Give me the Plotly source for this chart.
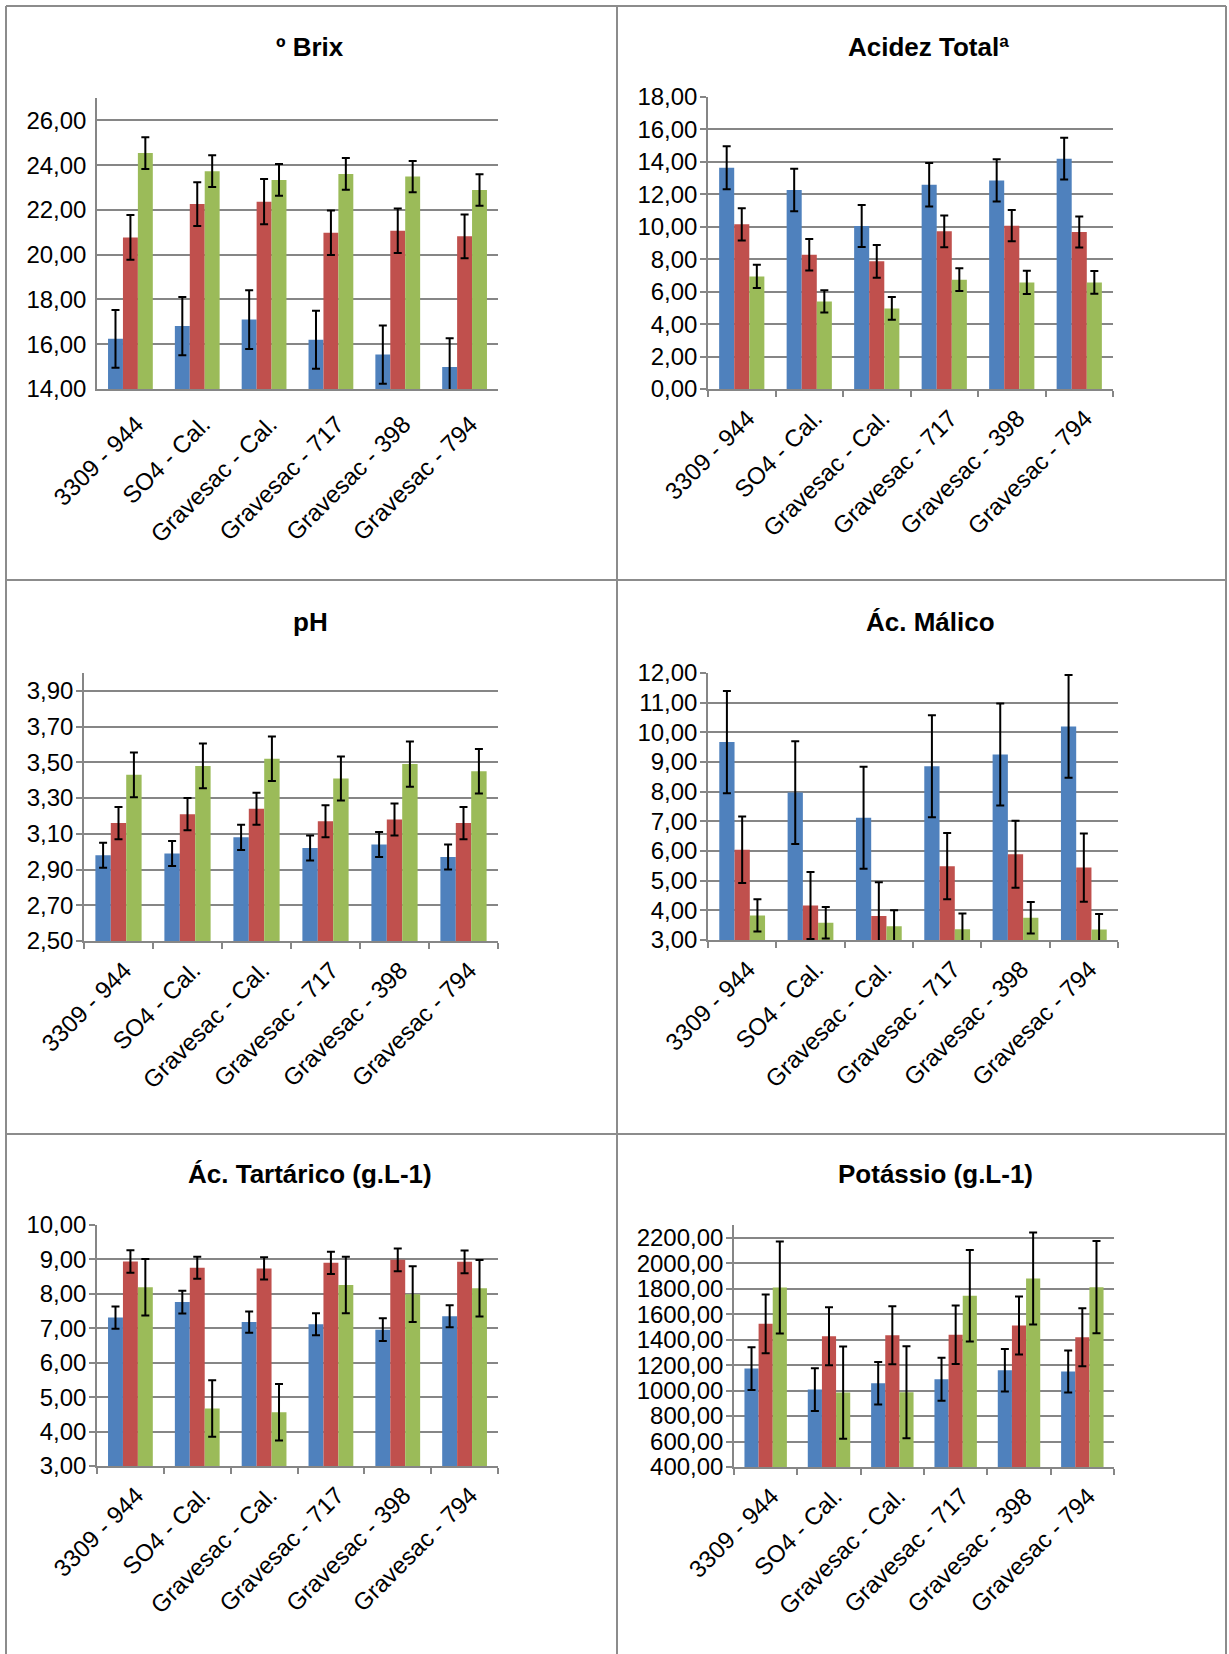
import plotly.graph_objects as go

# ---------------- data ----------------
categories = ["3309 - 944", "SO4 - Cal.", "Gravesac - Cal.", "Gravesac - 717", "Gravesac - 398", "Gravesac - 794"]

titles = ["º Brix", "Acidez Totalª", "pH", "Ác. Málico", "Ác. Tartárico (g.L-1)", "Potássio (g.L-1)"]

brix_s1 = [16.24, 16.81, 17.10, 16.20, 15.54, 14.98]
brix_s2 = [20.77, 22.26, 22.37, 20.98, 21.07, 20.82]
brix_s3 = [24.54, 23.73, 23.34, 23.61, 23.49, 22.89]
brix_e1 = [1.29, 1.30, 1.31, 1.30, 1.30, 1.29]
brix_e2 = [1.00, 0.98, 1.01, 0.99, 0.99, 0.98]
brix_e3 = [0.71, 0.71, 0.71, 0.71, 0.70, 0.70]

acid_s1 = [13.64, 12.27, 10.05, 12.59, 12.86, 14.20]
acid_s2 = [10.15, 8.28, 7.87, 9.72, 10.07, 9.68]
acid_s3 = [6.94, 5.40, 4.97, 6.74, 6.57, 6.57]
acid_e1 = [1.32, 1.31, 1.29, 1.34, 1.30, 1.29]
acid_e2 = [0.99, 0.97, 1.01, 0.98, 0.96, 0.96]
acid_e3 = [0.72, 0.68, 0.70, 0.70, 0.72, 0.70]

ph_s1 = [2.98, 2.99, 3.08, 3.02, 3.04, 2.97]
ph_s2 = [3.16, 3.21, 3.24, 3.17, 3.18, 3.16]
ph_s3 = [3.43, 3.48, 3.52, 3.41, 3.49, 3.45]
ph_e1 = [0.07, 0.07, 0.07, 0.07, 0.07, 0.07]
ph_e2 = [0.09, 0.09, 0.09, 0.09, 0.09, 0.09]
ph_e3 = [0.125, 0.125, 0.125, 0.123, 0.127, 0.125]

malic_s1 = [9.67, 7.97, 7.12, 8.86, 9.25, 10.20]
malic_s2 = [6.04, 4.16, 3.81, 5.49, 5.89, 5.44]
malic_s3 = [3.83, 3.58, 3.46, 3.36, 3.75, 3.35]
malic_e1 = [1.72, 1.73, 1.72, 1.72, 1.72, 1.73]
malic_e2 = [1.12, 1.13, 1.14, 1.12, 1.13, 1.15]
malic_e3 = [0.54, 0.53, 0.54, 0.53, 0.53, 0.53]

tart_s1 = [7.31, 7.76, 7.18, 7.12, 6.96, 7.35]
tart_s2 = [8.94, 8.76, 8.74, 8.90, 8.99, 8.93]
tart_s3 = [8.19, 4.67, 4.56, 8.26, 7.99, 8.16]
tart_e1 = [0.32, 0.33, 0.31, 0.32, 0.33, 0.32]
tart_e2 = [0.33, 0.32, 0.32, 0.32, 0.33, 0.33]
tart_e3 = [0.82, 0.82, 0.82, 0.82, 0.81, 0.82]

pot_s1 = [1173, 1008, 1058, 1089, 1160, 1149]
pot_s2 = [1524, 1427, 1435, 1438, 1511, 1419]
pot_s3 = [1810, 984, 987, 1744, 1880, 1812]
pot_e1 = [168, 168, 167, 168, 167, 165]
pot_e2 = [231, 228, 228, 230, 228, 228]
pot_e3 = [361, 362, 361, 359, 362, 362]

y_ranges = [[14, 27], [0, 18], [2.5, 4.0], [3, 12], [3, 10], [400, 2300]]
y_dticks = [2, 2, 0.2, 1, 1, 200]

panel_series = [
    [(brix_s1, brix_e1), (brix_s2, brix_e2), (brix_s3, brix_e3)],
    [(acid_s1, acid_e1), (acid_s2, acid_e2), (acid_s3, acid_e3)],
    [(ph_s1, ph_e1), (ph_s2, ph_e2), (ph_s3, ph_e3)],
    [(malic_s1, malic_e1), (malic_s2, malic_e2), (malic_s3, malic_e3)],
    [(tart_s1, tart_e1), (tart_s2, tart_e2), (tart_s3, tart_e3)],
    [(pot_s1, pot_e1), (pot_s2, pot_e2), (pot_s3, pot_e3)],
]

# ---------------- layout / style ----------------
W, H = 1229, 1654
colors = ["#4F81BD", "#C0504D", "#9BBB59"]
grid_col = "#868686"
FONT = "Liberation Sans, Arial, sans-serif"

# plot-area boxes in pixels: (left, top, right, bottom)
boxes = [
    (97, 98, 498, 389),
    (708, 97, 1113, 389),
    (84, 673, 498, 941),
    (708, 673, 1118, 940),
    (97, 1225, 498, 1466),
    (734, 1225, 1114, 1467),
]
title_pos = [(310, 47), (928, 47), (310, 622), (930, 622), (310, 1174), (935, 1174)]
show_ticks = [False, True, True, True, True, True]

fig = go.Figure()
layout_axes = {}
for i in range(6):
    xa = "x" if i == 0 else f"x{i+1}"
    ya = "y" if i == 0 else f"y{i+1}"
    for s, (vals, errs) in enumerate(panel_series[i]):
        fig.add_trace(go.Bar(
            x=categories, y=vals,
            error_y=dict(type="data", array=errs, visible=True, color="black",
                         thickness=2, width=4),
            marker=dict(color=colors[s], line=dict(width=0)),
            xaxis=xa, yaxis=ya, showlegend=False,
        ))
    l, t, r, b = boxes[i]
    xkey = "xaxis" if i == 0 else f"xaxis{i+1}"
    ykey = "yaxis" if i == 0 else f"yaxis{i+1}"
    layout_axes[xkey] = dict(
        domain=[l / W, r / W], anchor=ya, type="category", automargin=False,
        tickangle=-45, tickfont=dict(family=FONT, size=24, color="black"),
        showline=True, linecolor=grid_col, linewidth=1.5,
        ticks="outside" if show_ticks[i] else "", tickson="boundaries",
        ticklen=6, tickcolor=grid_col, tickwidth=1.5,
        ticklabelstandoff=4 if show_ticks[i] else 10, ticklabelshift=6,
        showgrid=False, fixedrange=True,
    )
    layout_axes[ykey] = dict(
        domain=[1 - b / H, 1 - t / H], anchor=xa, automargin=False,
        range=y_ranges[i], dtick=y_dticks[i], tick0=y_ranges[i][0],
        tickformat=".2f", tickfont=dict(family=FONT, size=24, color="black"),
        showgrid=True, gridcolor=grid_col, gridwidth=1.5,
        showline=True, linecolor=grid_col, linewidth=1.5,
        ticks="outside" if show_ticks[i] else "", ticklen=6,
        tickcolor=grid_col, tickwidth=1.5, zeroline=False,
        ticklabelstandoff=-2 if show_ticks[i] else 4, fixedrange=True,
    )

annotations = []
for i in range(6):
    cx, cy = title_pos[i]
    annotations.append(dict(
        text=f"<b>{titles[i]}</b>", x=cx / W, y=1 - cy / H, xref="paper", yref="paper",
        xanchor="center", yanchor="middle", showarrow=False,
        font=dict(family=FONT, size=26, color="black"),
    ))

border_col = "#8C8C8C"
shapes = []
def hline(y, x0, x1):
    shapes.append(dict(type="line", xref="paper", yref="paper", x0=x0 / W, x1=x1 / W,
                       y0=1 - y / H, y1=1 - y / H, line=dict(color=border_col, width=2)))
def vline(x, y0, y1):
    shapes.append(dict(type="line", xref="paper", yref="paper", x0=x / W, x1=x / W,
                       y0=1 - y0 / H, y1=1 - y1 / H, line=dict(color=border_col, width=2)))

hline(6, 6, 1226)
hline(580, 6, 1226)
hline(1134, 6, 1226)
vline(6, 6, 1654)
vline(617, 6, 1654)
vline(1226, 6, 1654)

fig.update_layout(
    width=W, height=H, margin=dict(l=0, r=0, t=0, b=0, pad=0, autoexpand=False),
    paper_bgcolor="white", plot_bgcolor="white",
    barmode="group", bargap=0.33, bargroupgap=0,
    separators=",.", annotations=annotations, shapes=shapes,
    **layout_axes,
)

fig.write_html("out.html", config={"displayModeBar": False},
               post_script="document.body.style.margin='0';document.body.style.overflow='hidden';")
